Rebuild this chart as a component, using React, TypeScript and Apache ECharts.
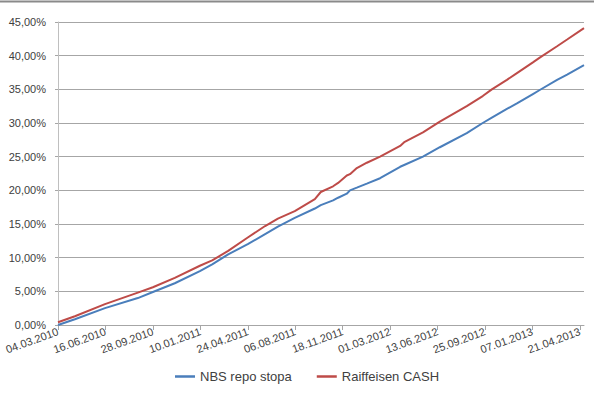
import React, { useEffect, useRef } from "react";
import * as echarts from "echarts";

// Days elapsed since 04.03.2010 for each sampled point
const daysFromStart = [
  0, 37, 103, 175, 208, 256, 311, 338, 373, 416, 454, 482, 519, 563, 576, 603,
  614, 633, 640, 655, 677, 706, 750, 760, 800, 837, 896, 931, 951, 984, 1006,
  1041, 1056, 1094, 1116, 1153,
];

// Cumulative return in %
const nbsRepo = [
  0.0, 0.85, 2.5, 4.0, 4.9, 6.2, 8.0, 9.0, 10.5, 12.0, 13.5, 14.6, 15.9, 17.3,
  17.8, 18.5, 18.9, 19.5, 20.0, 20.4, 21.0, 21.8, 23.5, 23.8, 25.0, 26.4, 28.5,
  30.0, 30.8, 32.1, 32.9, 34.3, 34.9, 36.4, 37.2, 38.6,
];

const raiffeisenCash = [
  0.4, 1.3, 3.1, 4.8, 5.6, 7.0, 8.8, 9.6, 11.0, 13.0, 14.7, 15.8, 16.9, 18.7,
  19.75, 20.6, 21.1, 22.2, 22.4, 23.3, 24.1, 25.0, 26.6, 27.2, 28.6, 30.2, 32.5,
  34.0, 35.0, 36.4, 37.4, 39.0, 39.7, 41.4, 42.4, 44.1,
];

const tickLabels = [
  "04.03.2010", "16.06.2010", "28.09.2010", "10.01.2011", "24.04.2011",
  "06.08.2011", "18.11.2011", "01.03.2012", "13.06.2012", "25.09.2012",
  "07.01.2013", "21.04.2013",
];

const seriesNames = ["NBS repo stopa", "Raiffeisen CASH"];
const TICK_STEP = 104;

const FONT = "Liberation Sans";

export default function App() {
  const ref = useRef<HTMLDivElement>(null);

  useEffect(() => {
    if (!ref.current) return;
    const chart = echarts.init(ref.current, null, { renderer: "svg" });
    const toPairs = (vals: number[]) => daysFromStart.map((d, i) => [d, vals[i]]);

    chart.setOption({
      animation: false,
      backgroundColor: "#ffffff",
      textStyle: { fontFamily: FONT },
      graphic: [
        {
          type: "line",
          shape: { x1: 0, y1: 1.5, x2: 594, y2: 1.5 },
          style: { stroke: "#8a8a8a", lineWidth: 2 },
        },
      ],
      grid: { left: 58, right: 10, top: 22, bottom: 76, containLabel: false },
      legend: {
        data: seriesNames,
        left: 170,
        top: 365,
        icon: "rect",
        itemWidth: 20,
        itemHeight: 2.5,
        itemGap: 25,
        textStyle: { fontSize: 13, color: "#404040", fontFamily: FONT },
      },
      xAxis: {
        type: "value",
        min: 0,
        max: 1153,
        interval: TICK_STEP,
        splitLine: { show: false },
        axisLine: { show: true, lineStyle: { color: "#a6a6a6", width: 1 } },
        axisTick: { show: true, length: 5, lineStyle: { color: "#a6a6a6" } },
        axisLabel: {
          rotate: 20,
          margin: 6,
          fontSize: 11,
          color: "#404040",
          fontFamily: FONT,
          showMaxLabel: false,
          formatter: (v: number) => {
            const idx = v / TICK_STEP;
            if (Math.abs(idx - Math.round(idx)) > 0.001) return "";
            return tickLabels[Math.round(idx)] ?? "";
          },
        },
      },
      yAxis: {
        type: "value",
        min: 0,
        max: 45,
        interval: 5,
        axisLine: { show: true, lineStyle: { color: "#bfbfbf", width: 1 } },
        axisTick: { show: true, length: 3, lineStyle: { color: "#a6a6a6" } },
        splitLine: { show: true, lineStyle: { color: "#a6a6a6", width: 1 } },
        axisLabel: {
          margin: 12,
          fontSize: 11,
          color: "#404040",
          fontFamily: FONT,
          formatter: (v: number) => v.toFixed(2).replace(".", ",") + "%",
        },
      },
      series: [
        {
          name: seriesNames[0],
          type: "line",
          data: toPairs(nbsRepo),
          symbol: "none",
          showSymbol: false,
          lineStyle: { color: "#4a7ebb", width: 2 },
          itemStyle: { color: "#4a7ebb" },
        },
        {
          name: seriesNames[1],
          type: "line",
          data: toPairs(raiffeisenCash),
          symbol: "none",
          showSymbol: false,
          lineStyle: { color: "#be4b48", width: 2 },
          itemStyle: { color: "#be4b48" },
        },
      ],
    });

    return () => chart.dispose();
  }, []);

  return (
    <div
      ref={ref}
      style={{ position: "fixed", left: 0, top: 0, width: 594, height: 401, background: "#fff" }}
    />
  );
}
